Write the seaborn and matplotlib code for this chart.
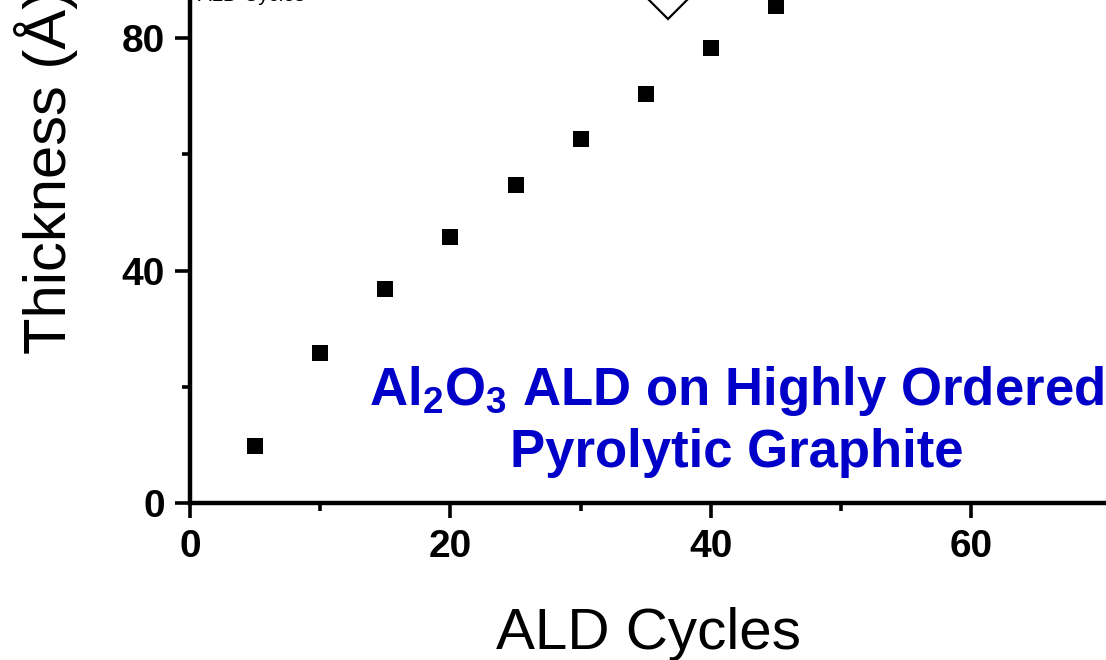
import numpy as np
import pandas as pd
import matplotlib
matplotlib.use("Agg")
import matplotlib.pyplot as plt
import seaborn as sns

# Data
cycles = [5, 10, 15, 20, 25, 30, 35, 40, 45]
thickness = [9.8, 25.8, 36.8, 45.8, 54.7, 62.7, 70.4, 78.3, 85.5]
open_x = [36.7]
open_y = [87.4]
x_ticks = [0, 20, 40, 60]
x_minor = [10, 30, 50]
y_ticks = [0, 40, 80]
y_minor = [20, 60]
x_label = "ALD Cycles"
y_label = "Thickness (Å)"
note_lines = ["Al$_\\mathbf{2}$O$_\\mathbf{3}$ ALD on Highly Ordered",
              "Pyrolytic Graphite"]

sns.set_style("ticks")
plt.rcParams['font.family'] = ['Liberation Sans', 'DejaVu Sans']
plt.rcParams['mathtext.fontset'] = 'custom'
plt.rcParams['mathtext.rm'] = 'Liberation Sans'
plt.rcParams['mathtext.bf'] = 'Liberation Sans:bold'
plt.rcParams['text.color'] = 'black'
plt.rcParams['axes.labelcolor'] = 'black'
plt.rcParams['xtick.color'] = 'black'
plt.rcParams['ytick.color'] = 'black'

fig = plt.figure(figsize=(11.06, 6.60), dpi=100)
ax = fig.add_axes([190/1106, 157/660, (1108-190)/1106, 523/660])

df = pd.DataFrame({"cycles": cycles, "thickness": thickness})
sns.scatterplot(data=df, x="cycles", y="thickness", ax=ax, marker="s",
                s=11.5**2, color="black", edgecolor="black", linewidth=0, clip_on=False)
ax.plot(open_x, open_y, linestyle="none", marker="D", markersize=24,
        markerfacecolor="white", markeredgecolor="black", markeredgewidth=1.6, clip_on=False)

ax.set_xlim(0, 70.5)
ax.set_ylim(0, 90)
ax.set_xticks(x_ticks)
ax.set_yticks(y_ticks)
ax.set_xticks(x_minor, minor=True)
ax.set_yticks(y_minor, minor=True)

for s in ["top", "right"]:
    ax.spines[s].set_visible(False)
for s in ["left", "bottom"]:
    ax.spines[s].set_linewidth(3.2)
    ax.spines[s].set_color("black")

ax.tick_params(axis="both", which="major", direction="out", length=11, width=2.6,
               labelsize=28, pad=7)
ax.tick_params(axis="both", which="minor", direction="out", length=5.5, width=2.6)
ax.tick_params(axis="x", which="major", pad=8)
for lab in ax.get_xticklabels() + ax.get_yticklabels():
    lab.set_fontweight("bold")

ax.set_xlabel(x_label, fontsize=42, labelpad=30)
ax.set_ylabel(y_label, fontsize=43)
ax.yaxis.set_label_coords(-0.122, 0.633)

blue = "#0000C8"
ax.text(42.0, 16.9, note_lines[0], color=blue, fontsize=38, fontweight="bold",
        ha="center", va="baseline")
ax.text(42.0, 6.2, note_lines[1], color=blue, fontsize=38, fontweight="bold",
        ha="center", va="baseline")
ax.text(4.7, 86.35, x_label, fontsize=14.8, ha="center", va="baseline", clip_on=False)

fig.savefig("out.png", dpi=100)
